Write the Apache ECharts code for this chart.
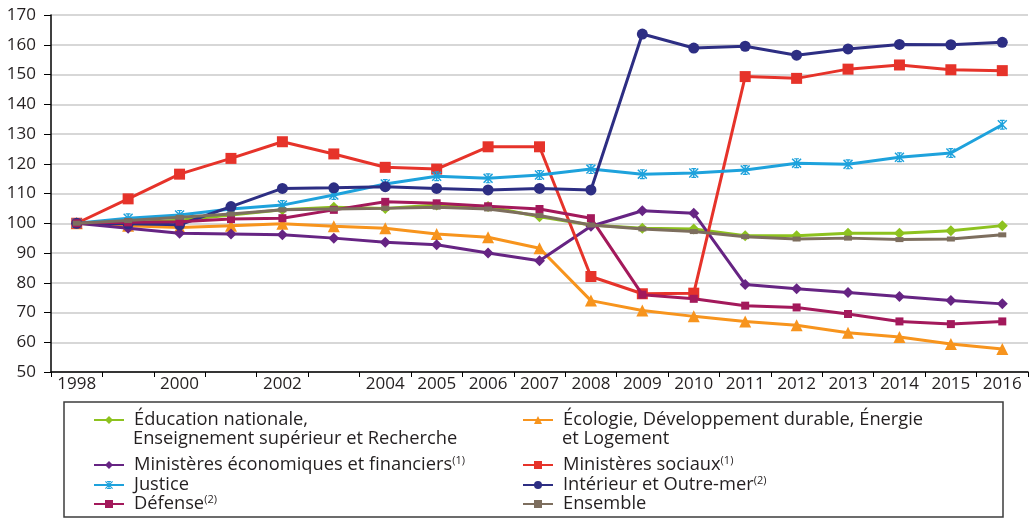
<!DOCTYPE html>
<html>
<head>
<meta charset="utf-8">
<script src="https://cdn.jsdelivr.net/npm/echarts@6/dist/echarts.min.js"></script>
<style>html,body{margin:0;padding:0;background:#fff}#c{width:1036px;height:519px}</style>
</head>
<body>
<div id="c"></div>
<script>
const years = ['1998','1999','2000','2001','2002','2003','2004','2005','2006','2007','2008','2009','2010','2011','2012','2013','2014','2015','2016'];
const yTicks = { min: 50, max: 170, interval: 10 };

const educ      = [100, 100.2, 101.0, 102.8, 104.5, 105.4, 105.0, 106.1, 105.6, 102.2, 99.4, 98.3, 98.1, 95.8, 95.8, 96.6, 96.6, 97.5, 99.2];
const ecologie  = [100, 99.2, 98.6, 99.2, 99.8, 99.0, 98.3, 96.4, 95.3, 91.6, 74.0, 70.7, 68.7, 67.0, 65.7, 63.2, 61.8, 59.4, 57.7];
const minEco    = [100, 98.3, 96.6, 96.4, 96.1, 95.0, 93.6, 92.8, 90.0, 87.4, 99.0, 104.2, 103.4, 79.4, 78.0, 76.7, 75.4, 74.0, 72.9];
const minSoc    = [100, 108.2, 116.5, 121.8, 127.4, 123.3, 118.8, 118.2, 125.7, 125.7, 82.1, 76.3, 76.5, 149.3, 148.7, 151.8, 153.2, 151.6, 151.3];
const justice   = [100, 101.7, 102.8, 104.8, 106.1, 109.5, 113.2, 115.8, 115.1, 116.2, 118.2, 116.5, 116.9, 117.9, 120.2, 119.8, 122.2, 123.6, 133.1];
const interieur = [100, 99.8, 99.5, 105.6, 111.7, 111.9, 112.3, 111.7, 111.2, 111.7, 111.2, 163.6, 158.9, 159.5, 156.5, 158.6, 160.1, 160.0, 160.8];
const defense   = [100, 100.3, 100.5, 101.4, 101.7, 104.5, 107.2, 106.7, 105.7, 104.8, 101.7, 76.0, 74.6, 72.3, 71.7, 69.5, 67.0, 66.1, 67.0];
const ensemble  = [100, 100.9, 102.0, 103.1, 104.5, 104.8, 105.0, 105.4, 104.8, 102.6, 99.4, 98.1, 97.2, 95.5, 94.7, 95.0, 94.5, 94.7, 96.1];

const names = [
  'Éducation nationale, Enseignement supérieur et Recherche',
  'Écologie, Développement durable, Énergie et Logement',
  'Ministères économiques et financiers',
  'Ministères sociaux',
  'Justice',
  'Intérieur et Outre-mer',
  'Défense',
  'Ensemble'
];
const legendLine1 = [
  'Éducation nationale,',
  'Écologie, Développement durable, Énergie',
  'Ministères économiques et financiers{sup|(1)}',
  'Ministères sociaux{sup|(1)}',
  'Justice',
  'Intérieur et Outre-mer{sup|(2)}',
  'Défense{sup|(2)}',
  'Ensemble'
];
const legendLine2 = ['Enseignement supérieur et Recherche', 'et Logement', '', '', '', '', '', ''];

const values = [educ, ecologie, minEco, minSoc, justice, interieur, defense, ensemble];
const colors = ['#8dc21f', '#f7941d', '#662483', '#e6332a', '#1ea2dc', '#2d2e83', '#a3195b', '#7d6e5e'];
const star = 'path://M4.25 0H5.75V10H4.25Z M0 1.05L1.05 0L10 8.95L8.95 10Z M8.95 0L10 1.05L1.05 10L0 8.95Z M2.6 0H7.4V1.2H2.6Z M2.6 8.8H7.4V10H2.6Z';
const symbols = ['diamond', 'triangle', 'diamond', 'rect', star, 'circle', 'rect', 'rect'];
const sizes = [11, 12, 11, 11, 10, 11, 8, [8, 5]];

const legendPos = [
  [93, 410], [522, 410],
  [93, 455], [522, 455],
  [93, 475], [522, 475],
  [93, 494], [522, 494]
];

const textColor = '#231f20';
const font = '"Open Sans", "Noto Sans", sans-serif';

const chart = echarts.init(document.getElementById('c'), null, { renderer: 'canvas' });

const series = names.map((n, i) => ({
  name: n,
  type: 'line',
  data: values[i],
  symbol: symbols[i],
  symbolSize: sizes[i],
  symbolKeepAspect: true,
  showAllSymbol: true,
  lineStyle: { color: colors[i], width: 3 },
  itemStyle: { color: colors[i], borderWidth: 0 },
  emphasis: { disabled: true },
  z: 2 + i
}));

const legends = names.map((n, i) => ({
  data: [n],
  left: legendPos[i][0],
  top: legendPos[i][1],
  orient: 'horizontal',
  padding: 0,
  itemWidth: 30,
  itemHeight: 10,
  selectedMode: false,
  formatter: () => legendLine1[i],
  textStyle: {
    color: textColor, fontSize: 18.3, fontFamily: font, lineHeight: 20,
    padding: [0, 0, 0, 5],
    rich: { sup: { fontSize: 11, fontFamily: font, color: textColor, verticalAlign: 'top', lineHeight: 12 } }
  }
}));

const graphics = [
  { type: 'rect', shape: { x: 64, y: 402, width: 939, height: 115 }, style: { fill: 'none', stroke: '#3c3c3c', lineWidth: 1.5 }, silent: true }
];
legendLine2.forEach((t, i) => {
  if (!t) return;
  graphics.push({
    type: 'text', left: legendPos[i][0] + 40, top: legendPos[i][1] + 20,
    style: { text: t, fill: textColor, fontSize: 18.3, fontFamily: font }, silent: true
  });
});

chart.setOption({
  animation: false,
  backgroundColor: '#ffffff',
  grid: { left: 51, right: 8, top: 15, bottom: 147, containLabel: false },
  legend: legends,
  graphic: graphics,
  xAxis: {
    type: 'category',
    data: years,
    boundaryGap: true,
    axisLine: { lineStyle: { color: '#000', width: 1.5 } },
    axisTick: { show: true, interval: 0, length: 5, lineStyle: { color: '#000', width: 1 } },
    axisLabel: {
      interval: (idx) => idx < 6 ? idx % 2 === 0 : true,
      color: textColor, fontSize: 17, fontFamily: font, margin: 4
    },
    splitLine: { show: false }
  },
  yAxis: {
    type: 'value',
    min: yTicks.min, max: yTicks.max, interval: yTicks.interval,
    axisLine: { show: true, lineStyle: { color: '#000', width: 1.5 } },
    axisTick: { show: true, length: 7, lineStyle: { color: '#000', width: 1 } },
    axisLabel: { color: textColor, fontSize: 17, fontFamily: font, margin: 15 },
    splitLine: { show: true, lineStyle: { color: '#cacaca', width: 1.5 } }
  },
  series: series
});
</script>
</body>
</html>
